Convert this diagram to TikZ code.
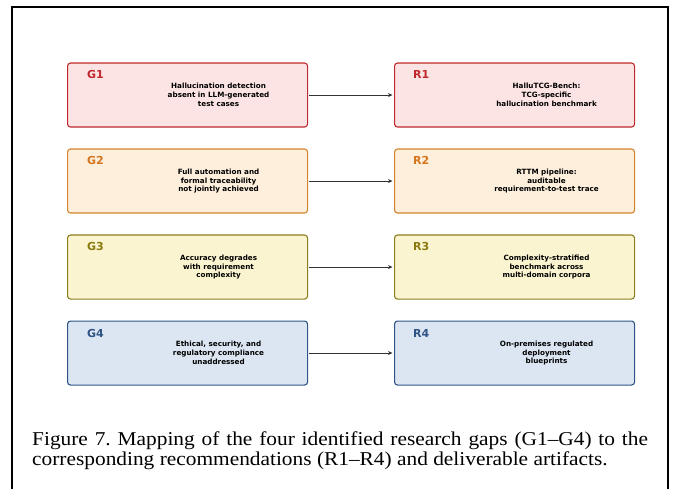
\documentclass[tikz,border=0pt]{standalone}
\usepackage{fontspec}
\setmainfont{Liberation Serif}
\newfontfamily\boxfont{DejaVu Sans}[BoldFont={DejaVu Sans Bold}]
\usetikzlibrary{arrows.meta}
\definecolor{gAfill}{HTML}{FCE4E4}\definecolor{gAline}{HTML}{C0282D}\definecolor{gAtext}{HTML}{C0282D}
\definecolor{gBfill}{HTML}{FDEFDC}\definecolor{gBline}{HTML}{D4832A}\definecolor{gBtext}{HTML}{D4761E}
\definecolor{gCfill}{HTML}{FAF5D0}\definecolor{gCline}{HTML}{8A7F1C}\definecolor{gCtext}{HTML}{8A7A10}
\definecolor{gDfill}{HTML}{DCE6F2}\definecolor{gDline}{HTML}{2E5486}\definecolor{gDtext}{HTML}{2E5486}
\definecolor{arrowgray}{HTML}{333333}
\tikzset{
  card/.style={draw=#1line, fill=#1fill, line width=1.1pt, rounded corners=3pt,
    minimum width=240pt, minimum height=64pt, inner sep=0pt, anchor=north west},
  tag/.style={text=#1text, font=\boxfont\bfseries\fontsize{11}{13}\selectfont, anchor=base west, inner sep=0pt},
  body/.style={font=\boxfont\bfseries\fontsize{7.2}{8.8}\selectfont, align=center, inner sep=0pt, anchor=center},
  link/.style={draw=arrowgray, line width=0.9pt, -{Stealth[length=4.5pt,width=4pt]}},
  framel/.style={line width=2pt, black},
  captext/.style={anchor=base west, inner sep=0pt, font=\fontsize{19.6}{20}\selectfont}
}
\begin{document}
\frenchspacing
\begin{tikzpicture}[x=1pt,y=-1pt]
\useasboundingbox (0,0) rectangle (675,489);
\draw[framel] (12,489) -- (12,7) -- (668,7) -- (668,489);
% rows
\foreach \k/\c/\y in {1/gA/62.5, 2/gB/148.5, 3/gC/234.5, 4/gD/320.5}{
  \node[card=\c] (g\k) at (67,\y) {};
  \node[card=\c] (r\k) at (394,\y) {};
  \node[tag=\c] (gl\k) at (87,\y+16.5) {G\k};
  \node[tag=\c] (rl\k) at (413,\y+16.5) {R\k};
  \path (g\k.east) ++(1,0) coordinate (ga\k) (r\k.west) ++(-1.5,0) coordinate (rb\k);
  \draw[link] (ga\k) -- (rb\k);
}
\node[body] (gt1) at ([xshift=31pt]g1.center) {Hallucination detection\\absent in LLM-generated\\test cases};
\node[body] (rt1) at ([xshift=32pt]r1.center) {HalluTCG-Bench:\\TCG-specific\\hallucination benchmark};
\node[body] (gt2) at ([xshift=31pt]g2.center) {Full automation and\\formal traceability\\not jointly achieved};
\node[body] (rt2) at ([xshift=32pt]r2.center) {RTTM pipeline:\\auditable\\requirement-to-test trace};
\node[body] (gt3) at ([xshift=31pt]g3.center) {Accuracy degrades\\with requirement\\complexity};
\node[body] (rt3) at ([xshift=32pt]r3.center) {Complexity-stratified\\benchmark across\\multi-domain corpora};
\node[body] (gt4) at ([xshift=31pt]g4.center) {Ethical, security, and\\regulatory compliance\\unaddressed};
\node[body] (rt4) at ([xshift=32pt]r4.center) {On-premises regulated\\deployment\\blueprints};
% caption
\node[captext] (cap1) at (32,445.7)
  {\scalebox{1.09}[1]{\makebox[565pt][s]{Figure 7. Mapping of the four identified research gaps (G1--G4) to the}}};
\node[captext] (cap2) at (32,465.3)
  {\scalebox{1.09}[1]{corresponding recommendations (R1--R4) and deliverable artifacts.}};
\end{tikzpicture}
\end{document}
